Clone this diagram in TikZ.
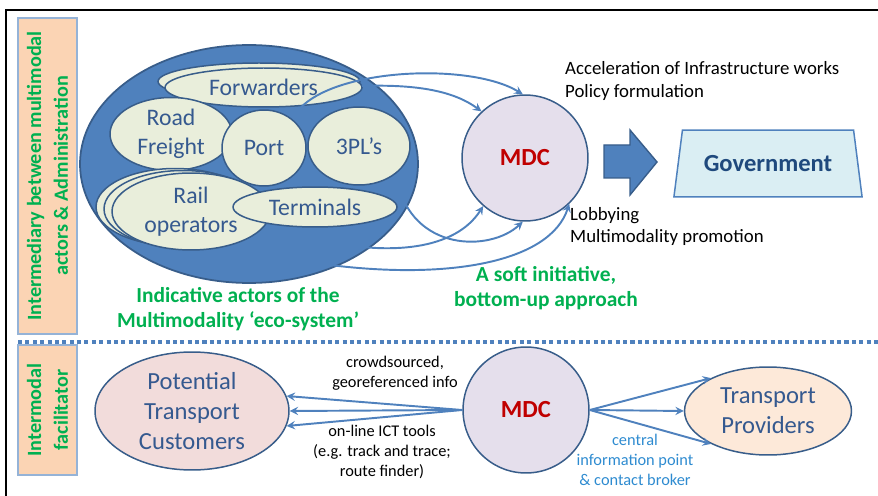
\documentclass[tikz,border=0pt]{standalone}
\usepackage{fontspec}
\setmainfont{Carlito}
\usetikzlibrary{shapes.geometric}
\definecolor{mdblue}{HTML}{4F81BD}
\definecolor{edgeblue}{HTML}{385D8A}
\definecolor{actorfill}{HTML}{E9EEDB}
\definecolor{labelblue}{HTML}{35598F}
\definecolor{hubfill}{HTML}{E5DFEC}
\definecolor{mdcred}{HTML}{C00000}
\definecolor{govfill}{HTML}{DAEEF3}
\definecolor{govtext}{HTML}{1F497D}
\definecolor{custfill}{HTML}{F2DCDB}
\definecolor{provfill}{HTML}{FDE9D9}
\definecolor{sidefill}{HTML}{FBD4B4}
\definecolor{sideedge}{HTML}{95B3D7}
\definecolor{ecogreen}{HTML}{00B050}
\definecolor{brokerblue}{HTML}{2E8BD0}

\begin{document}
\begin{tikzpicture}[x=0.02cm, y=-0.02cm,
    actor/.style={ellipse, draw=edgeblue, fill=actorfill, line width=0.85pt, text=labelblue, align=center, inner sep=-3pt, font=\fontsize{13.5}{16.4}\selectfont},
    hub/.style={circle, draw=edgeblue, fill=hubfill, line width=0.85pt, minimum size=2.52cm, text=mdcred, font=\bfseries\fontsize{14}{16}\selectfont},
    party/.style={ellipse, draw=edgeblue, line width=0.85pt, text=labelblue, align=center, inner sep=-2pt, font=\fontsize{14}{17}\selectfont},
    sidebar/.style={rectangle, draw=sideedge, fill=sidefill, line width=0.8pt, rotate=90, minimum height=1.18cm, align=center, text=ecogreen, font=\bfseries\fontsize{11.5}{15.3}\selectfont},
    link/.style={->, >=stealth, line width=1.1pt, color=mdblue},
    remark/.style={align=left, anchor=west, font=\fontsize{10.7}{12.6}\selectfont},
    toolnote/.style={align=center, font=\fontsize{9.3}{11.6}\selectfont},
    slogan/.style={align=center, text=ecogreen, font=\bfseries\fontsize{12.2}{14}\selectfont}
]
\useasboundingbox (0,0) rectangle (878,496);

% Frame
\draw[line width=1.1pt] (6,496) -- (6,10) -- (878,10);

% Side labels
\node[sidebar, minimum width=6.32cm] (side1) at (47.5,176) {Intermediary between multimodal\\actors \& Administration};
\node[sidebar, minimum width=2.6cm] (side2) at (47.5,410) {Intermodal\\facilitator};
\draw[mdblue, line width=2.3pt, dash pattern=on 2.3pt off 1.9pt] (18,342) -- (878,342);

% Eco-system of actors
\node[ellipse, draw=edgeblue, fill=mdblue, line width=1pt, minimum width=6.76cm, minimum height=4.76cm] (eco) at (249,164) {};
\node[actor, minimum width=4.04cm, minimum height=0.74cm] (fwdback) at (259,81.5) {};
\node[actor, minimum width=3.94cm, minimum height=0.78cm] (fwd) at (263.5,87.5) {Forwarders};
\node[actor, minimum width=2.44cm, minimum height=1.46cm] (road) at (171,134) {Road\\Freight};
\node[actor, minimum width=1.68cm, minimum height=1.52cm] (port) at (264,148) {Port};
\node[actor, minimum width=2.04cm, minimum height=1.56cm] (tpl) at (359,146) {3PL’s};
\node[actor, minimum width=3.16cm, minimum height=1.54cm] (railc) at (175,207) {};
\node[actor, minimum width=3.16cm, minimum height=1.54cm] (railb) at (183,209) {};
\node[actor, minimum width=3.16cm, minimum height=1.54cm] (rail) at (191,211.5) {Rail\\operators};
\node[actor, minimum width=3.28cm, minimum height=0.8cm] (term) at (315,207) {Terminals};
\node[slogan] (ecotext) at (238,309) {Indicative actors of the\\Multimodality ‘eco-system’};

% MDC (top)
\node[hub] (mdc) at (525,158) {MDC};
\coordinate (a1) at (297,112);
\coordinate (a2) at (362,86);
\coordinate (a3) at (397,180);
\coordinate (a4) at (320,240);
\coordinate (a5) at (330,265);
\draw[link] (a1) .. controls (330,68) and (470,62) .. (mdc.92);
\draw[link] (a2) .. controls (420,84) and (455,92) .. (mdc.133);
\draw[link] (a3) .. controls (412,252) and (490,252) .. (mdc.268);
\draw[link] (a4) .. controls (390,256) and (455,250) .. (mdc.229);
\draw[link] (a5) .. controls (450,280) and (550,262) .. (mdc.314);
\node[remark] (accel) at (559,81) {Acceleration of Infrastructure works\\Policy formulation};
\node[remark] (lobby) at (564,226.5) {Lobbying\\Multimodality promotion};
\node[slogan] (soft) at (546,288) {A soft initiative,\\bottom-up approach};

% Government
\draw[edgeblue, fill=mdblue, line width=0.8pt] (604,145) -- (630,145) -- (630,130) -- (657,162) -- (630,195) -- (630,178) -- (604,178) -- cycle;
\node[trapezium, trapezium stretches=true, trapezium left angle=76, trapezium right angle=76, draw=mdblue, fill=govfill, line width=0.85pt, minimum width=3.8cm, minimum height=1.34cm, text=govtext, font=\bfseries\fontsize{14}{16}\selectfont] (gov) at (768,163.5) {Government};

% Intermodal facilitator
\node[party, fill=custfill, minimum width=3.88cm, minimum height=2.36cm] (ptc) at (192,411) {Potential\\Transport\\Customers};
\node[hub] (mdcb) at (526,410) {MDC};
\node[party, fill=provfill, minimum width=3.34cm, minimum height=1.76cm] (tp) at (768,411) {Transport\\Providers};
\draw[link] (mdcb.west) -- (ptc.9);
\draw[link] (mdcb.west) -- (ptc.east);
\draw[link] (mdcb.west) -- (ptc.-9);
\draw[link] (mdcb.east) -- (tp.150);
\draw[link] (mdcb.east) -- (tp.west);
\draw[link] (mdcb.east) -- (tp.210);
\node[toolnote] (crowd) at (395,373) {crowdsourced,\\georeferenced info};
\node[toolnote] (ict) at (382,452) {on-line ICT tools\\(e.g. track and trace;\\route finder)};
\node[toolnote, text=brokerblue] (broker) at (635,460) {central\\information point\\\& contact broker};

\end{tikzpicture}
\end{document}
